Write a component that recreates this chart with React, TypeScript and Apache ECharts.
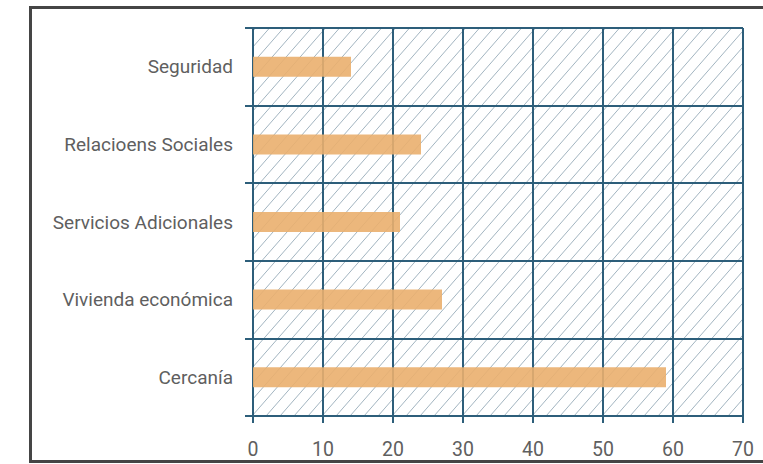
import React, { useEffect, useRef } from "react";
import * as echarts from "echarts";

const categories = [
  "Cercanía",
  "Vivienda económica",
  "Servicios Adicionales",
  "Relacioens Sociales",
  "Seguridad",
];
const values = [59, 27, 21, 24, 14];
const xTicks = { min: 0, max: 70, interval: 10 };

const FONT = 'Roboto, "Liberation Sans", sans-serif';
const LINE = "#2d5e7a";

function makeHatch(): HTMLCanvasElement {
  const w = 14;
  const h = 16;
  const c = document.createElement("canvas");
  c.width = w;
  c.height = h;
  const ctx = c.getContext("2d")!;
  ctx.fillStyle = "#ffffff";
  ctx.fillRect(0, 0, w, h);
  ctx.strokeStyle = "#97abb9";
  ctx.lineWidth = 0.9;
  ctx.beginPath();
  ctx.moveTo(-w * 0.1, h * 1.1);
  ctx.lineTo(w * 1.1, -h * 0.1);
  ctx.moveTo(-w * 0.1, h * 0.1);
  ctx.lineTo(w * 0.1, -h * 0.1);
  ctx.moveTo(w * 0.9, h * 1.1);
  ctx.lineTo(w * 1.1, h * 0.9);
  ctx.stroke();
  return c;
}

export default function App() {
  const ref = useRef<HTMLDivElement>(null);
  useEffect(() => {
    if (!ref.current) return;
    const chart = echarts.init(ref.current, undefined, { renderer: "svg" });
    const hatch = makeHatch();
    chart.setOption({
      animation: false,
      backgroundColor: "#ffffff",
      grid: {
        left: 253,
        right: 20,
        top: 28,
        bottom: 48,
        show: true,
        borderWidth: 0,
        backgroundColor: { image: hatch, repeat: "repeat" } as any,
      },
      xAxis: {
        type: "value",
        min: xTicks.min,
        max: xTicks.max,
        interval: xTicks.interval,
        axisLine: { show: true, lineStyle: { color: LINE, width: 2 } },
        axisTick: { show: true, length: 7, lineStyle: { color: LINE, width: 2 } },
        splitLine: { show: true, lineStyle: { color: LINE, width: 2 } },
        axisLabel: { color: "#5f5f5f", fontFamily: FONT, fontSize: 19.5, margin: 23 },
      },
      yAxis: {
        type: "category",
        data: categories,
        axisLine: { show: true, lineStyle: { color: LINE, width: 2 } },
        axisTick: { show: true, length: 8, lineStyle: { color: LINE, width: 2 } },
        splitLine: { show: true, lineStyle: { color: LINE, width: 2 } },
        axisLabel: { color: "#5f5f5f", fontFamily: FONT, fontSize: 19, margin: 20 },
      },
      series: [
        {
          type: "bar",
          data: values,
          barWidth: 20,
          itemStyle: { color: "#eaaf6e", opacity: 0.9 },
          z: 1,
        },
      ],
      graphic: [
        {
          type: "rect",
          shape: { x: 30.5, y: 7.5, width: 740, height: 454 },
          style: { fill: "none", stroke: "#454545", lineWidth: 3 },
          silent: true,
          z: 100,
        },
      ],
    });
    return () => chart.dispose();
  }, []);
  return (
    <div
      ref={ref}
      style={{ position: "fixed", left: 0, top: 0, width: 763, height: 464 }}
    />
  );
}
